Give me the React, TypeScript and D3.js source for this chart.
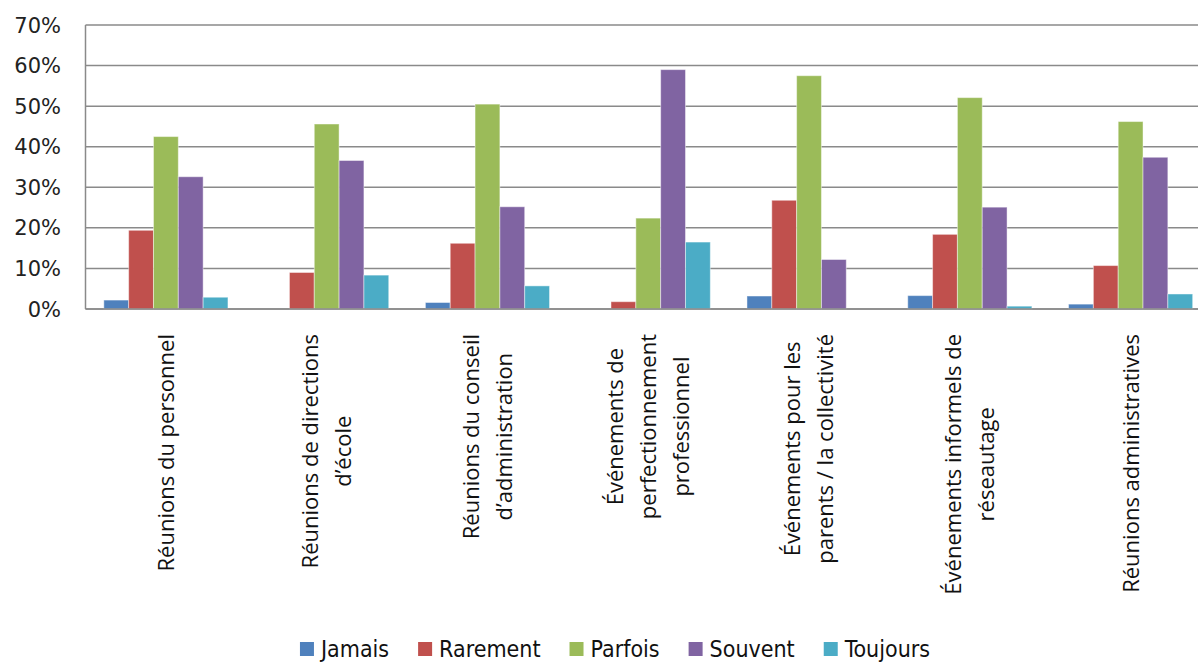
import { useRef, useEffect } from "react";
import * as d3 from "d3";

const categories = [
  ["Réunions du personnel"],
  ["Réunions de directions", "d’école"],
  ["Réunions du conseil", "d’administration"],
  ["Événements de", "perfectionnement", "professionnel"],
  ["Événements pour les", "parents / la collectivité"],
  ["Événements informels de", "réseautage"],
  ["Réunions administratives"],
];

const seriesNames = ["Jamais", "Rarement", "Parfois", "Souvent", "Toujours"];
const seriesColors = ["#4F81BD", "#C0504D", "#9BBB59", "#8064A2", "#4BACC6"];

const jamais = [2.2, 0, 1.6, 0, 3.2, 3.3, 1.2];
const rarement = [19.4, 9.0, 16.2, 1.8, 26.8, 18.4, 10.7];
const parfois = [42.5, 45.6, 50.5, 22.4, 57.5, 52.1, 46.2];
const souvent = [32.6, 36.6, 25.2, 59.0, 12.2, 25.1, 37.4];
const toujours = [2.9, 8.35, 5.7, 16.5, 0, 0.7, 3.7];

const seriesValues = [jamais, rarement, parfois, souvent, toujours];
const yTicks = [0, 10, 20, 30, 40, 50, 60, 70];

const W = 1198;
const H = 664;

export default function App() {
  const svgRef = useRef<SVGSVGElement>(null);

  useEffect(() => {
    if (!svgRef.current) return;
    const svg = d3.select(svgRef.current);
    svg.selectAll("*").remove();

    const left = 85.5;
    const right = 1211;
    const top = 25;
    const bottom = 309;

    const catKeys = categories.map((_, i) => String(i));
    const x0 = d3.scaleBand().domain(catKeys).range([left, right]).paddingInner(0.228).paddingOuter(0.114);
    const x1 = d3.scaleBand().domain(seriesNames).range([0, x0.bandwidth()]);
    const y = d3.scaleLinear().domain([0, 70]).range([bottom, top]);

    // gridlines
    svg
      .append("g")
      .selectAll("line")
      .data(yTicks)
      .join("line")
      .attr("x1", left)
      .attr("x2", W)
      .attr("y1", (d) => y(d))
      .attr("y2", (d) => y(d))
      .attr("stroke", "#8a8a8a")
      .attr("stroke-width", 1.5);

    // left axis line
    svg
      .append("line")
      .attr("x1", left)
      .attr("x2", left)
      .attr("y1", y(70))
      .attr("y2", y(0))
      .attr("stroke", "#8a8a8a")
      .attr("stroke-width", 1.5);

    // y tick labels
    svg
      .append("g")
      .selectAll("text")
      .data(yTicks)
      .join("text")
      .attr("x", 61)
      .attr("y", (d) => y(d))
      .attr("dy", "0.36em")
      .attr("text-anchor", "end")
      .attr("font-family", "'DejaVu Sans', sans-serif")
      .attr("font-size", "21px")
      .attr("fill", "#222")
      .text((d) => `${d}%`);

    // bars
    seriesNames.forEach((name, si) => {
      svg
        .append("g")
        .selectAll("rect")
        .data(seriesValues[si])
        .join("rect")
        .attr("x", (_, i) => x0(String(i))! + x1(name)!)
        .attr("y", (d) => y(d))
        .attr("width", x1.bandwidth())
        .attr("height", (d) => y(0) - y(d))
        .attr("fill", seriesColors[si])
        .attr("stroke", "#ffffff")
        .attr("stroke-opacity", 0.45)
        .attr("stroke-width", 1);
    });

    // bottom axis line on top of bars
    svg
      .append("line")
      .attr("x1", left)
      .attr("x2", W)
      .attr("y1", y(0))
      .attr("y2", y(0))
      .attr("stroke", "#8a8a8a")
      .attr("stroke-width", 1.5);

    // category labels (rotated, lines centered)
    const lineGap = 33;
    const labelTop = 334;
    categories.forEach((lines, i) => {
      const cx = x0(String(i))! + x0.bandwidth() / 2;
      const g = svg.append("g");
      const texts = g
        .selectAll("text")
        .data(lines)
        .join("text")
        .attr("text-anchor", "middle")
        .attr("font-family", "'Open Sans', sans-serif")
        .attr("font-size", "22px")
        .attr("fill", "#111")
        .attr("x", 0)
        .attr("y", (_, li) => (li - (lines.length - 1) / 2) * lineGap)
        .attr("dy", "0.36em")
        .text((d) => d);
      let maxLen = 0;
      texts.each(function () {
        maxLen = Math.max(maxLen, (this as SVGTextElement).getComputedTextLength());
      });
      g.attr("transform", `translate(${cx},${labelTop + maxLen / 2}) rotate(-90)`);
    });

    // legend
    const legend = svg.append("g");
    let lx = 0;
    seriesNames.forEach((name, si) => {
      legend
        .append("rect")
        .attr("x", lx)
        .attr("y", -7)
        .attr("width", 14)
        .attr("height", 14)
        .attr("fill", seriesColors[si]);
      const t = legend
        .append("text")
        .attr("x", lx + 21)
        .attr("y", 0)
        .attr("dy", "0.35em")
        .attr("font-family", "'Liberation Sans Narrow', 'DejaVu Sans Condensed', sans-serif")
        .attr("font-stretch", "condensed")
        .attr("font-size", "23px")
        .attr("fill", "#111")
        .text(name);
      const tw = (t.node() as SVGTextElement).getComputedTextLength();
      lx += 21 + tw + (si < seriesNames.length - 1 ? 29 : 0);
    });
    legend.attr("transform", `translate(${615 - lx / 2},649)`);
  }, []);

  return (
    <svg
      ref={svgRef}
      width={W}
      height={H}
      style={{ position: "absolute", left: 0, top: 0, display: "block", background: "#fff" }}
    />
  );
}
